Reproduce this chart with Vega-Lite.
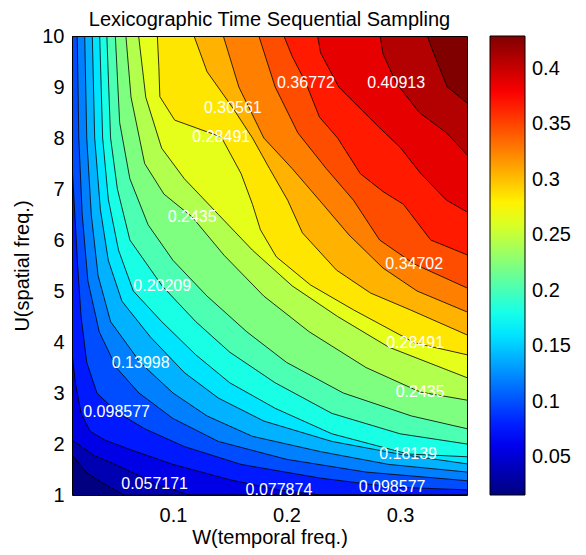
{
"$schema":"https://vega.github.io/schema/vega-lite/v6.json",
"width":395,"height":459,
"autosize":{"type":"none"},
"padding":{"left":72,"top":36,"right":119,"bottom":60},
"config":{"font":"Liberation Sans","view":{"stroke":null}},
"title":{"text":"Lexicographic Time Sequential Sampling","fontSize":20,"fontWeight":"normal","color":"#000","offset":2,"dy":22,"baseline":"alphabetic"},
"resolve":{"axis":{"x":"independent","y":"independent"}},
"datasets":{
"levels":[{"c":0,"L":0.015765},{"c":1,"L":0.036468},{"c":2,"L":0.057171},{"c":3,"L":0.077874},{"c":4,"L":0.098577},{"c":5,"L":0.11928},{"c":6,"L":0.139983},{"c":7,"L":0.160686},{"c":8,"L":0.181389},{"c":9,"L":0.202092},{"c":10,"L":0.222795},{"c":11,"L":0.243498},{"c":12,"L":0.264201},{"c":13,"L":0.284904},{"c":14,"L":0.305607},{"c":15,"L":0.32631},{"c":16,"L":0.347013},{"c":17,"L":0.367716},{"c":18,"L":0.388419},{"c":19,"L":0.409122},{"c":20,"L":0.429825}],
"contours":[
{"c":0,"W":0.011,"U":1},{"c":0,"W":0.359,"U":1},
{"c":1,"W":0.011,"U":1.78},{"c":1,"W":0.0244,"U":1.43},{"c":1,"W":0.0376,"U":1.24},{"c":1,"W":0.0535,"U":1.04},{"c":1,"W":0.056,"U":1.0},{"c":1,"W":0.359,"U":1},
{"c":2,"W":0.011,"U":2.08},{"c":2,"W":0.03,"U":1.78},{"c":2,"W":0.05,"U":1.59},{"c":2,"W":0.07,"U":1.38},{"c":2,"W":0.0838,"U":1.22},{"c":2,"W":0.1,"U":1.1},{"c":2,"W":0.115,"U":1.0},{"c":2,"W":0.359,"U":1},
{"c":3,"W":0.011,"U":3.8},{"c":3,"W":0.014,"U":3.2},{"c":3,"W":0.019,"U":2.6},{"c":3,"W":0.027,"U":2.25},{"c":3,"W":0.0397,"U":2.08},{"c":3,"W":0.0636,"U":1.88},{"c":3,"W":0.1,"U":1.6},{"c":3,"W":0.15,"U":1.3},{"c":3,"W":0.1933,"U":1.098},{"c":3,"W":0.23,"U":1.0},{"c":3,"W":0.359,"U":1},
{"c":4,"W":0.011,"U":7.5},{"c":4,"W":0.0135,"U":6.5},{"c":4,"W":0.016,"U":5.5},{"c":4,"W":0.019,"U":4.5},{"c":4,"W":0.024,"U":3.6},{"c":4,"W":0.033,"U":3.0},{"c":4,"W":0.0503,"U":2.627},{"c":4,"W":0.075,"U":2.3},{"c":4,"W":0.11,"U":1.95},{"c":4,"W":0.16,"U":1.6},{"c":4,"W":0.23,"U":1.33},{"c":4,"W":0.293,"U":1.157},{"c":4,"W":0.359,"U":1.1},
{"c":5,"W":0.011,"U":10},{"c":5,"W":0.0156,"U":10},{"c":5,"W":0.017,"U":8},{"c":5,"W":0.02,"U":6.5},{"c":5,"W":0.025,"U":5.2},{"c":5,"W":0.035,"U":4.2},{"c":5,"W":0.05,"U":3.5},{"c":5,"W":0.07,"U":3.0},{"c":5,"W":0.1,"U":2.5},{"c":5,"W":0.14,"U":2.05},{"c":5,"W":0.2,"U":1.7},{"c":5,"W":0.27,"U":1.45},{"c":5,"W":0.359,"U":1.28},
{"c":6,"W":0.011,"U":10},{"c":6,"W":0.0222,"U":10},{"c":6,"W":0.024,"U":8},{"c":6,"W":0.028,"U":6.5},{"c":6,"W":0.034,"U":5.3},{"c":6,"W":0.045,"U":4.4},{"c":6,"W":0.0715,"U":3.588},{"c":6,"W":0.1,"U":3.0},{"c":6,"W":0.13,"U":2.55},{"c":6,"W":0.17,"U":2.15},{"c":6,"W":0.23,"U":1.85},{"c":6,"W":0.29,"U":1.6},{"c":6,"W":0.359,"U":1.45},
{"c":7,"W":0.011,"U":10},{"c":7,"W":0.0289,"U":10},{"c":7,"W":0.031,"U":8},{"c":7,"W":0.036,"U":6.6},{"c":7,"W":0.043,"U":5.6},{"c":7,"W":0.055,"U":4.8},{"c":7,"W":0.08,"U":4.1},{"c":7,"W":0.11,"U":3.4},{"c":7,"W":0.14,"U":2.9},{"c":7,"W":0.18,"U":2.45},{"c":7,"W":0.24,"U":2.05},{"c":7,"W":0.3,"U":1.8},{"c":7,"W":0.359,"U":1.61},
{"c":8,"W":0.011,"U":10},{"c":8,"W":0.0354,"U":10},{"c":8,"W":0.038,"U":8},{"c":8,"W":0.043,"U":6.8},{"c":8,"W":0.052,"U":5.8},{"c":8,"W":0.065,"U":5.0},{"c":8,"W":0.09,"U":4.4},{"c":8,"W":0.12,"U":3.75},{"c":8,"W":0.15,"U":3.2},{"c":8,"W":0.19,"U":2.7},{"c":8,"W":0.24,"U":2.2},{"c":8,"W":0.3071,"U":1.804},{"c":8,"W":0.359,"U":1.75},
{"c":9,"W":0.011,"U":10},{"c":9,"W":0.0417,"U":10},{"c":9,"W":0.045,"U":8},{"c":9,"W":0.051,"U":7.0},{"c":9,"W":0.062,"U":6.0},{"c":9,"W":0.0905,"U":5.098},{"c":9,"W":0.12,"U":4.4},{"c":9,"W":0.15,"U":3.8},{"c":9,"W":0.19,"U":3.2},{"c":9,"W":0.24,"U":2.6},{"c":9,"W":0.3,"U":2.2},{"c":9,"W":0.359,"U":2.0},
{"c":10,"W":0.011,"U":10},{"c":10,"W":0.0492,"U":10},{"c":10,"W":0.053,"U":8.3},{"c":10,"W":0.062,"U":7.2},{"c":10,"W":0.078,"U":6.3},{"c":10,"W":0.1,"U":5.6},{"c":10,"W":0.13,"U":4.9},{"c":10,"W":0.165,"U":4.2},{"c":10,"W":0.2,"U":3.6},{"c":10,"W":0.25,"U":3.0},{"c":10,"W":0.31,"U":2.55},{"c":10,"W":0.359,"U":2.3},
{"c":11,"W":0.011,"U":10},{"c":11,"W":0.0585,"U":10},{"c":11,"W":0.063,"U":8.8},{"c":11,"W":0.075,"U":7.5},{"c":11,"W":0.092,"U":6.9},{"c":11,"W":0.1169,"U":6.451},{"c":11,"W":0.145,"U":5.7},{"c":11,"W":0.18,"U":4.9},{"c":11,"W":0.22,"U":4.2},{"c":11,"W":0.27,"U":3.5},{"c":11,"W":0.3177,"U":3.02},{"c":11,"W":0.359,"U":2.86},
{"c":12,"W":0.011,"U":10},{"c":12,"W":0.0697,"U":10},{"c":12,"W":0.076,"U":8.8},{"c":12,"W":0.09,"U":7.8},{"c":12,"W":0.11,"U":7.2},{"c":12,"W":0.14,"U":6.5},{"c":12,"W":0.17,"U":5.8},{"c":12,"W":0.205,"U":5.1},{"c":12,"W":0.245,"U":4.5},{"c":12,"W":0.29,"U":3.9},{"c":12,"W":0.359,"U":3.3},
{"c":13,"W":0.011,"U":10},{"c":13,"W":0.0862,"U":10},{"c":13,"W":0.0875,"U":9.4},{"c":13,"W":0.0884,"U":8.81},{"c":13,"W":0.1015,"U":8.35},{"c":13,"W":0.1425,"U":8.02},{"c":13,"W":0.16,"U":7.3},{"c":13,"W":0.17,"U":6.7},{"c":13,"W":0.177,"U":6.2},{"c":13,"W":0.191,"U":5.67},{"c":13,"W":0.221,"U":5.12},{"c":13,"W":0.259,"U":4.63},{"c":13,"W":0.3133,"U":3.98},{"c":13,"W":0.359,"U":3.75},
{"c":14,"W":0.011,"U":10},{"c":14,"W":0.1185,"U":10},{"c":14,"W":0.13,"U":9.3},{"c":14,"W":0.1527,"U":8.588},{"c":14,"W":0.17,"U":8.0},{"c":14,"W":0.185,"U":7.4},{"c":14,"W":0.201,"U":6.78},{"c":14,"W":0.214,"U":6.14},{"c":14,"W":0.244,"U":5.41},{"c":14,"W":0.274,"U":4.96},{"c":14,"W":0.309,"U":4.63},{"c":14,"W":0.359,"U":4.14},
{"c":15,"W":0.011,"U":10},{"c":15,"W":0.1443,"U":10},{"c":15,"W":0.158,"U":9.0},{"c":15,"W":0.18,"U":8.0},{"c":15,"W":0.205,"U":7.4},{"c":15,"W":0.229,"U":6.78},{"c":15,"W":0.255,"U":6.1},{"c":15,"W":0.285,"U":5.45},{"c":15,"W":0.315,"U":5.0},{"c":15,"W":0.359,"U":4.59},
{"c":16,"W":0.011,"U":10},{"c":16,"W":0.1756,"U":10},{"c":16,"W":0.19,"U":9.0},{"c":16,"W":0.21,"U":8.1},{"c":16,"W":0.235,"U":7.4},{"c":16,"W":0.259,"U":6.78},{"c":16,"W":0.282,"U":6.0},{"c":16,"W":0.3125,"U":5.529},{"c":16,"W":0.359,"U":5.06},
{"c":17,"W":0.011,"U":10},{"c":17,"W":0.1977,"U":10},{"c":17,"W":0.205,"U":9.6},{"c":17,"W":0.2171,"U":9.078},{"c":17,"W":0.229,"U":8.41},{"c":17,"W":0.245,"U":8.0},{"c":17,"W":0.265,"U":7.3},{"c":17,"W":0.285,"U":6.95},{"c":17,"W":0.303,"U":6.7},{"c":17,"W":0.327,"U":6.0},{"c":17,"W":0.359,"U":5.71},
{"c":18,"W":0.011,"U":10},{"c":18,"W":0.2274,"U":10},{"c":18,"W":0.23,"U":9.67},{"c":18,"W":0.246,"U":9.0},{"c":18,"W":0.264,"U":8.6},{"c":18,"W":0.282,"U":8.2},{"c":18,"W":0.3,"U":7.82},{"c":18,"W":0.318,"U":7.31},{"c":18,"W":0.341,"U":6.78},{"c":18,"W":0.359,"U":6.55},
{"c":19,"W":0.011,"U":10},{"c":19,"W":0.2825,"U":10},{"c":19,"W":0.285,"U":9.65},{"c":19,"W":0.2966,"U":9.078},{"c":19,"W":0.317,"U":8.5},{"c":19,"W":0.341,"U":8.1},{"c":19,"W":0.359,"U":7.67},
{"c":20,"W":0.011,"U":10},{"c":20,"W":0.324,"U":10},{"c":20,"W":0.3295,"U":9.67},{"c":20,"W":0.3416,"U":9.0},{"c":20,"W":0.359,"U":8.69}
],
"labels":[
{"t":"0.057171","W":0.0838,"U":1.216},{"t":"0.077874","W":0.1933,"U":1.098},{"t":"0.098577","W":0.293,"U":1.157},{"t":"0.098577","W":0.0503,"U":2.627},{"t":"0.13998","W":0.0715,"U":3.588},{"t":"0.18139","W":0.3071,"U":1.804},{"t":"0.20209","W":0.0905,"U":5.098},{"t":"0.2435","W":0.1169,"U":6.451},{"t":"0.2435","W":0.3177,"U":3.02},{"t":"0.28491","W":0.3133,"U":3.98},{"t":"0.28491","W":0.1425,"U":8.02},{"t":"0.30561","W":0.1527,"U":8.588},{"t":"0.34702","W":0.3125,"U":5.529},{"t":"0.36772","W":0.2171,"U":9.078},{"t":"0.40913","W":0.2966,"U":9.078}
]
},
"layer":[
{"data":{"name":"contours"},
 "transform":[{"lookup":"c","from":{"data":{"name":"levels"},"key":"c","fields":["L"]}}],
 "mark":{"type":"area","interpolate":"linear","clip":true},
 "encoding":{
  "x":{"field":"W","type":"quantitative","scale":{"domain":[0.011,0.359],"nice":false,"zero":false},
       "axis":{"orient":"bottom","values":[0.1,0.2,0.3],"format":".1f","title":"W(temporal freq.)","grid":false,"ticks":false,"labelFontSize":20,"labelColor":"#000","labelPadding":10,"titleFontSize":20,"titleFontWeight":"normal","titleColor":"#000","titlePadding":2,"domainColor":"#000","domainWidth":1,"zindex":1}},
  "y":{"field":"U","type":"quantitative","stack":null,"scale":{"domain":[1,10],"nice":false,"zero":false},
       "axis":{"orient":"left","values":[1,2,3,4,5,6,7,8,9,10],"format":"d","title":"U(spatial freq.)","grid":false,"ticks":false,"labelFontSize":20,"labelColor":"#000","labelPadding":8,"titleFontSize":20,"titleFontWeight":"normal","titleColor":"#000","titlePadding":9,"domainColor":"#000","domainWidth":1,"zindex":1}},
  "y2":{"datum":10},
  "detail":{"field":"c","type":"nominal"},
  "color":{"field":"L","type":"quantitative",
    "scale":{"domain":[0.015765,0.067523,0.171039,0.274556,0.378072,0.429825],"range":["#000080","#0000ff","#00ffff","#ffff00","#ff0000","#800000"],"interpolate":"rgb"},
    "legend":{"title":null,"orient":"right","direction":"vertical","offset":23,"padding":0,"gradientLength":459,"gradientThickness":35,"gradientStrokeColor":"#000","gradientStrokeWidth":1,"labelFontSize":20,"labelColor":"#000","labelOffset":7,"values":[0.05,0.1,0.15,0.2,0.25,0.3,0.35,0.4],"format":".2~f","labelOverlap":false}}
 }},
{"data":{"name":"contours"},
 "transform":[{"filter":"datum.c > 0"}],
 "mark":{"type":"line","color":"#000","strokeWidth":0.8,"clip":true},
 "encoding":{
  "x":{"field":"W","type":"quantitative","axis":null},
  "y":{"field":"U","type":"quantitative","axis":null},
  "detail":{"field":"c","type":"nominal"}
 }},
{"data":{"name":"labels"},
 "mark":{"type":"text","color":"#fff","fontSize":16,"align":"center","baseline":"middle","font":"Liberation Sans"},
 "encoding":{
  "x":{"field":"W","type":"quantitative","axis":{"orient":"top","labels":false,"ticks":false,"title":null,"grid":false,"domainColor":"#000","domainWidth":1,"zindex":1}},
  "y":{"field":"U","type":"quantitative","axis":{"orient":"right","labels":false,"ticks":false,"title":null,"grid":false,"domainColor":"#000","domainWidth":1,"zindex":1}},
  "text":{"field":"t","type":"nominal"}
 }}
]
}
